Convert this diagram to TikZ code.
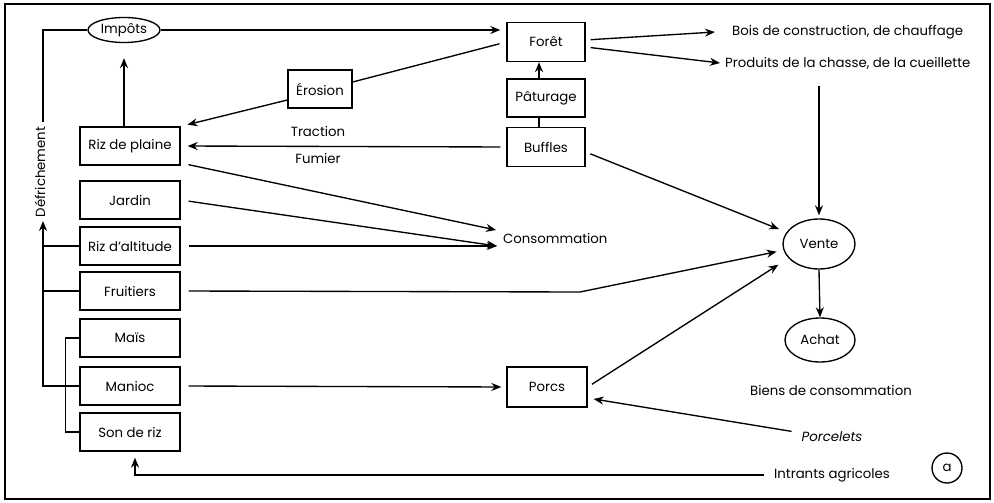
\documentclass[tikz,border=0pt]{standalone}
\usepackage{fontspec}
\setmainfont{Poppins}
\usetikzlibrary{arrows.meta,shapes.geometric}
\begin{document}
\begin{tikzpicture}[x=1pt,y=-1pt,
  every node/.style={font=\fontsize{13.3}{15}\selectfont},
  base/.style={line width=1.35pt},
  boxn/.style={base,draw,rectangle,minimum width=100pt,minimum height=38pt,inner sep=0pt},
  smallbox/.style={boxn,minimum width=78pt,minimum height=39pt},
  ell/.style={base,draw,ellipse,inner sep=0pt},
  txt/.style={inner sep=0pt,anchor=west},
  ln/.style={base},
  arr/.style={base,-{Stealth[length=10pt,width=8pt]}}]
\useasboundingbox (0,0) rectangle (994,503);
\draw[line width=1.5pt] (5,4) rectangle (990,499);
% nodes
\node[ell,minimum width=72pt,minimum height=25pt] (impots) at (124,30) {Impôts};
\node[smallbox] (foret) at (546,42) {Forêt};
\node[smallbox,minimum height=38pt] (patur) at (546,98) {Pâturage};
\node[smallbox] (buffles) at (546,147) {Buffles};
\node[boxn,minimum width=64pt] (erosion) at (320,89) {Érosion};
\node[boxn] (rizp) at (130,146) {Riz de plaine};
\node[boxn] (jardin) at (130,200) {Jardin};
\node[boxn] (rizalt) at (130,246) {Riz d’altitude};
\node[boxn] (fruit) at (130,291) {Fruitiers};
\node[boxn] (mais) at (130,338) {Maïs};
\node[boxn] (manioc) at (130,386) {Manioc};
\node[boxn] (son) at (130,432) {Son de riz};
\node[smallbox,minimum width=80pt,minimum height=40pt] (porcs) at (547,387) {Porcs};
\node[ell,minimum width=72pt,minimum height=50pt] (vente) at (819,244) {Vente};
\node[ell,minimum width=70pt,minimum height=44pt] (achat) at (820,340) {Achat};
\node[txt] (cons) at (503,238) {Consommation};
\node[txt] (bois) at (732,32) {Bois de construction, de chauffage};
\node[txt] (prod) at (725,63) {Produits de la chasse, de la cueillette};
\node[inner sep=0pt] (biens) at (831,390) {Biens de consommation};
\node[inner sep=0pt] (porcelets) at (832,437) {\itshape Porcelets};
\node[inner sep=0pt] (intrants) at (832,475) {Intrants agricoles};
\node[base,draw,circle,minimum size=30pt,inner sep=0pt] (lettre) at (947,468) {a};
\node[inner sep=0pt,rotate=90] (defr) at (40,172) {Défrichement};
\node[inner sep=0pt] (traction) at (318,131) {Traction};
\node[inner sep=0pt] (fumier) at (318,158) {Fumier};
\coordinate (dtop) at (43,122);
\coordinate (dbot) at (43,221);
% left structure
\draw[ln] (impots.west) -| (dtop);
\draw[arr] (manioc.west) -| (dbot);
\draw[ln] (rizalt.west) -- (rizalt.west -| dbot);
\draw[ln] (fruit.west) -- (fruit.west -| dbot);
\draw[ln] (mais.west) -- ++(-14,0) |- (son.west);
% top
\draw[arr,shorten >=6pt] (impots.east) -- (foret.west |- impots.east);
\draw[arr] (rizp.north -| impots.south) -- ([yshift=-15pt]impots.south);
\draw[ln,shorten <=7pt] (foret.west) -- ([yshift=7pt]erosion.east);
\draw[arr,shorten >=7pt] ([yshift=-11pt]erosion.west) -- (rizp.north east);
\draw[arr,shorten <=6pt,shorten >=7pt] (buffles.west) -- (rizp.east);
\draw[arr] ([xshift=-7pt]patur.north) -- ([xshift=-7pt]foret.south);
\draw[ln] ([xshift=-7pt]buffles.north) -- ([xshift=-7pt]patur.south);
\draw[arr,shorten <=5pt] ([yshift=2pt]foret.east) -- ([xshift=-17pt]bois.west);
\draw[arr,shorten <=5pt] ([yshift=-5pt]foret.east) -- ([xshift=-5pt]prod.west);
\draw[arr,shorten <=17pt,shorten >=3pt] (prod.south -| vente.north) -- (vente.north);
\draw[arr,shorten <=5pt,shorten >=8pt] ([yshift=-5pt]buffles.east) -- (vente.160);
% consommation
\draw[arr,shorten <=8pt] ([yshift=-17pt]rizp.east) -- ([xshift=-7pt,yshift=8pt]cons.west);
\draw[arr,shorten <=8pt] (jardin.east) -- ([xshift=-6pt,yshift=-8pt]cons.west);
\draw[arr,shorten <=8pt] (rizalt.east) -- ([xshift=-6pt,yshift=-8pt]cons.west);
% vente
\draw[arr,shorten <=8pt,shorten >=7pt] (fruit.east) -- (580,292) -- (vente.190);
\draw[arr,shorten <=5pt,shorten >=12pt] (porcs.east) -- (vente.205);
\draw[arr] (vente.south) -- (achat.north);
% porcs
\draw[arr,shorten <=8pt,shorten >=5pt] (manioc.east) -- (porcs.west);
\draw[arr,shorten <=10pt,shorten >=6pt] ([yshift=4pt]porcelets.west) -- ([yshift=-11pt]porcs.east);
\draw[arr] ([xshift=-10pt]intrants.west) -| ([xshift=5pt,yshift=-6pt]son.south);
\end{tikzpicture}
\end{document}
